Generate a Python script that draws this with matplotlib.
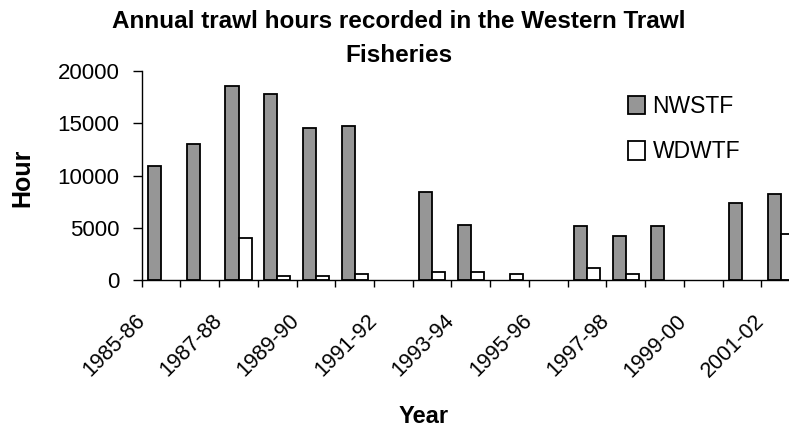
import numpy as np
import matplotlib.pyplot as plt
from matplotlib.transforms import ScaledTranslation

plt.rcParams['font.family'] = ['Liberation Sans', 'DejaVu Sans']

seasons = ['1985-86', '1986-87', '1987-88', '1988-89', '1989-90', '1990-91',
           '1991-92', '1992-93', '1993-94', '1994-95', '1995-96', '1996-97',
           '1997-98', '1998-99', '1999-00', '2000-01', '2001-02']
# trawl hours per season, 0 = no effort recorded
nwstf = [10900, 13000, 18500, 17800, 14500, 14700, 0, 8400, 5300, 0,
         0, 5200, 4200, 5200, 0, 7400, 8200]
wdwtf = [0, 0, 4000, 400, 400, 600, 0, 800, 800, 600,
         0, 1200, 600, 0, 0, 0, 4400]

fig = plt.figure(figsize=(7.89, 4.30), dpi=100)
# plot area runs past the right edge, so the last season is cut off
ax = fig.add_axes([141.7/789, 149.7/430, 658.3/789, 209.6/430])

x = np.arange(len(seasons))
n = np.array(nwstf, dtype=float)
w = np.array(wdwtf, dtype=float)
bw = 0.336
ax.bar(x[n > 0] - bw/2, n[n > 0], bw, color='#969696', edgecolor='black',
       linewidth=1.3, label='NWSTF')
ax.bar(x[w > 0] + bw/2, w[w > 0], bw, color='white', edgecolor='black',
       linewidth=1.3, label='WDWTF')

ax.set_xlim(-0.5, len(seasons) - 0.5)
ax.set_ylim(0, 20000)
ax.set_yticks(np.arange(0, 20001, 5000))

ticks = np.arange(len(seasons) + 1) - 0.5
labels = [seasons[k] if k < len(seasons) and k % 2 == 0 else '' for k in range(len(ticks))]
ax.set_xticks(ticks)
ax.set_xticklabels(labels, rotation=45, ha='right', va='center',
                   rotation_mode='anchor')
shift = ScaledTranslation(0.05, 0, fig.dpi_scale_trans)
for lab in ax.get_xticklabels():
    lab.set_transform(lab.get_transform() + shift)

ax.tick_params(axis='x', length=5, width=1, pad=22, labelsize=15.5)
ax.tick_params(axis='y', length=6.5, width=1, pad=9.5, labelsize=16)
for s in ('top', 'right'):
    ax.spines[s].set_visible(False)
for s in ('left', 'bottom'):
    ax.spines[s].set_linewidth(1)

ax.legend(loc='upper left', bbox_to_anchor=(628/789, 1 - 95/430),
          bbox_transform=fig.transFigure, frameon=False, fontsize=16.5,
          handlelength=0.75, handleheight=0.85, handletextpad=0.32,
          labelspacing=0.98, borderpad=0, borderaxespad=0)

fig.text(0.505, 1 - 10/430, 'Annual trawl hours recorded in the Western Trawl\nFisheries',
         ha='center', va='top', fontsize=17.5, fontweight='bold', linespacing=1.6)
fig.text(22/789, 1 - 178/430, 'Hour', rotation=90, ha='center', va='center',
         fontsize=18, fontweight='bold')
fig.text(424/789, 1 - 423/430, 'Year', ha='center', va='baseline',
         fontsize=17, fontweight='bold')

fig.savefig('out.png', dpi=100)
